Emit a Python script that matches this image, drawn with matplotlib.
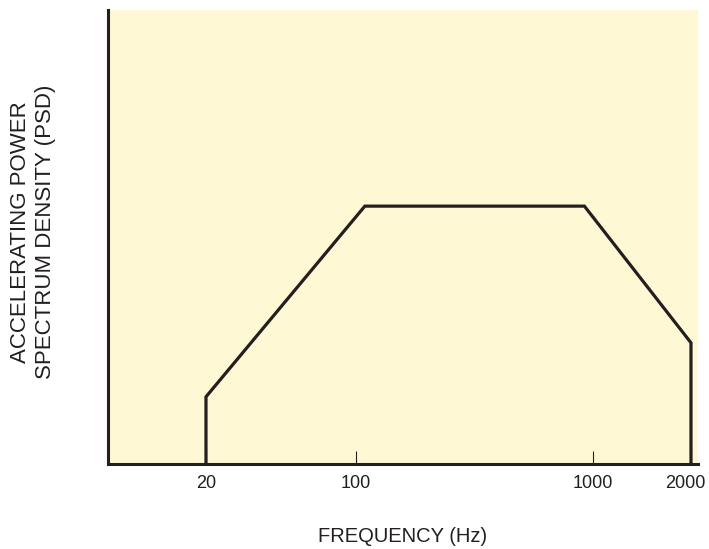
import numpy as np
import matplotlib.pyplot as plt
from matplotlib.transforms import ScaledTranslation

# PSD profile (schematic), frequency in Hz, PSD in relative units
freq = [20, 20, 109, 920, 2000, 2000]
psd = [0.0, 0.148, 0.568, 0.568, 0.267, 0.0]

tick_freqs = [20, 100, 1000, 2000]
tick_labels = ["20", "100", "1000", "2000"]

# the original axis is not a true log axis, so map frequency piecewise
anchor_f = np.log10([10, 20, 100, 1000, 2000, 2200])
anchor_x = np.array([0.0, 0.1661, 0.4203, 0.8220, 0.9881, 1.0])


def fwd(f):
    f = np.clip(np.asarray(f, dtype=float), 1e-3, None)
    return np.interp(np.log10(f), anchor_f, anchor_x)


def inv(x):
    return 10 ** np.interp(x, anchor_x, anchor_f)


plt.rcParams['font.family'] = ['Liberation Sans', 'DejaVu Sans']

fig = plt.figure(figsize=(7.09, 5.49), dpi=100)
ax = fig.add_axes([0.1523, 0.1548, 0.8322, 0.827])
ax.set_facecolor('#fff8d5')

ax.set_xscale('function', functions=(fwd, inv))
ax.set_xlim(inv(0.0), inv(1.0))
ax.set_ylim(0, 1)

ax.plot(freq, psd, color='#231f20', linewidth=2.3, solid_joinstyle='miter')

ax.set_xticks(tick_freqs)
ax.set_xticklabels(tick_labels, fontsize=13)
ax.xaxis.set_minor_locator(plt.NullLocator())
ax.tick_params(axis='x', direction='in', length=9.5, width=0.8, pad=8,
               color='#231f20', labelcolor='#231f20')
ax.set_yticks([])

# last label sits a little left of its tick, as in the original
last = ax.get_xticklabels()[-1]
last.set_transform(last.get_transform() +
                   ScaledTranslation(-6 / 100, 0, fig.dpi_scale_trans))

for s in ['top', 'right']:
    ax.spines[s].set_visible(False)
for s in ['left', 'bottom']:
    ax.spines[s].set_linewidth(2.2)
    ax.spines[s].set_color('#231f20')

fig.text(0.568, 0.022, "FREQUENCY (Hz)", ha='center', va='center',
         fontsize=14.5, color='#231f20')
fig.text(0.046, 0.577, "ACCELERATING POWER\nSPECTRUM DENSITY (PSD)",
         rotation=90, ha='center', va='center', fontsize=16,
         color='#231f20', linespacing=1.25)

fig.savefig('out.png', dpi=100)
